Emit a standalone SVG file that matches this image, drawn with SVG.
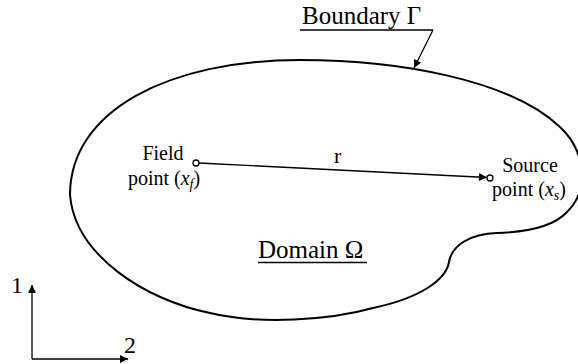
<svg xmlns="http://www.w3.org/2000/svg" width="578" height="364" viewBox="0 0 578 364">
<style>
.t{font-family:"Liberation Serif","DejaVu Serif",serif;fill:#000}
.lbl{font-size:20px}
.big{font-size:25px}
.ln{stroke:#000;stroke-width:1.3;fill:none}
</style>
<defs>
<marker id="ah" viewBox="0 0 10 10" refX="10" refY="5" markerWidth="10" markerHeight="8" markerUnits="userSpaceOnUse" orient="auto"><path d="M0,0 L10,5 L0,10 z" fill="#000"/></marker>
<marker id="ah2" viewBox="0 0 10 10" refX="10" refY="5" markerWidth="12" markerHeight="8" markerUnits="userSpaceOnUse" orient="auto"><path d="M0,0 L10,5 L0,10 z" fill="#000"/></marker>
</defs>
<g id="domain">
<path d="M300,60 C400,60 510,80 560,127 C585,150 590,190 567,212 C555,225 530,232 497,233 C470,234 452,245 449,262 C446,280 420,298 373,308 C330,320 260,325 210,313 C145,300 75,255 70,195 C70,110 170,60 300,60 Z" fill="none" stroke="#000" stroke-width="2"/>
<text class="t big" font-family="Liberation Serif, DejaVu Serif, serif" x="258" y="258">Domain Ω</text>
<line class="ln" x1="258" y1="262.5" x2="367" y2="262.5" stroke-width="1.6"/>
</g>
<g id="boundary">
<text class="t big" font-family="Liberation Serif, DejaVu Serif, serif" x="302" y="24">Boundary Γ</text>
<line class="ln" x1="300" y1="30" x2="433" y2="30"/>
</g>
<g id="field">
<circle cx="196" cy="163" r="3" fill="#fff" stroke="#000" stroke-width="1.3"/>
<text class="t lbl" font-family="Liberation Serif, DejaVu Serif, serif" x="163" y="160" text-anchor="middle">Field</text>
<text class="t lbl" font-family="Liberation Serif, DejaVu Serif, serif" x="164" y="185" text-anchor="middle">point (<tspan font-style="italic">x</tspan><tspan font-style="italic" font-size="14" dy="4">f</tspan><tspan dy="-4">)</tspan></text>
</g>
<g id="source">
<circle cx="490" cy="178" r="3" fill="#fff" stroke="#000" stroke-width="1.3"/>
<text class="t lbl" font-family="Liberation Serif, DejaVu Serif, serif" x="530" y="172" text-anchor="middle">Source</text>
<text class="t lbl" font-family="Liberation Serif, DejaVu Serif, serif" x="529" y="196" text-anchor="middle">point (<tspan font-style="italic">x</tspan><tspan font-style="italic" font-size="14" dy="4">s</tspan><tspan dy="-4">)</tspan></text>
</g>
<g id="axes">
<line class="ln" x1="32" y1="359" x2="32" y2="285" marker-end="url(#ah2)"/>
<line class="ln" x1="32" y1="359" x2="128" y2="359" marker-end="url(#ah2)"/>
<text class="t" font-family="Liberation Serif, DejaVu Serif, serif" x="11" y="293" font-size="24">1</text>
<text class="t" font-family="Liberation Serif, DejaVu Serif, serif" x="124" y="353" font-size="24">2</text>
</g>
<g id="connectors">
<line class="ln" x1="199" y1="163" x2="487" y2="177.5" marker-end="url(#ah)"/>
<text class="t" font-family="Liberation Serif, DejaVu Serif, serif" x="334" y="163" font-size="22">r</text>
<line class="ln" x1="433" y1="30" x2="414" y2="68" marker-end="url(#ah)"/>
</g>
</svg>
